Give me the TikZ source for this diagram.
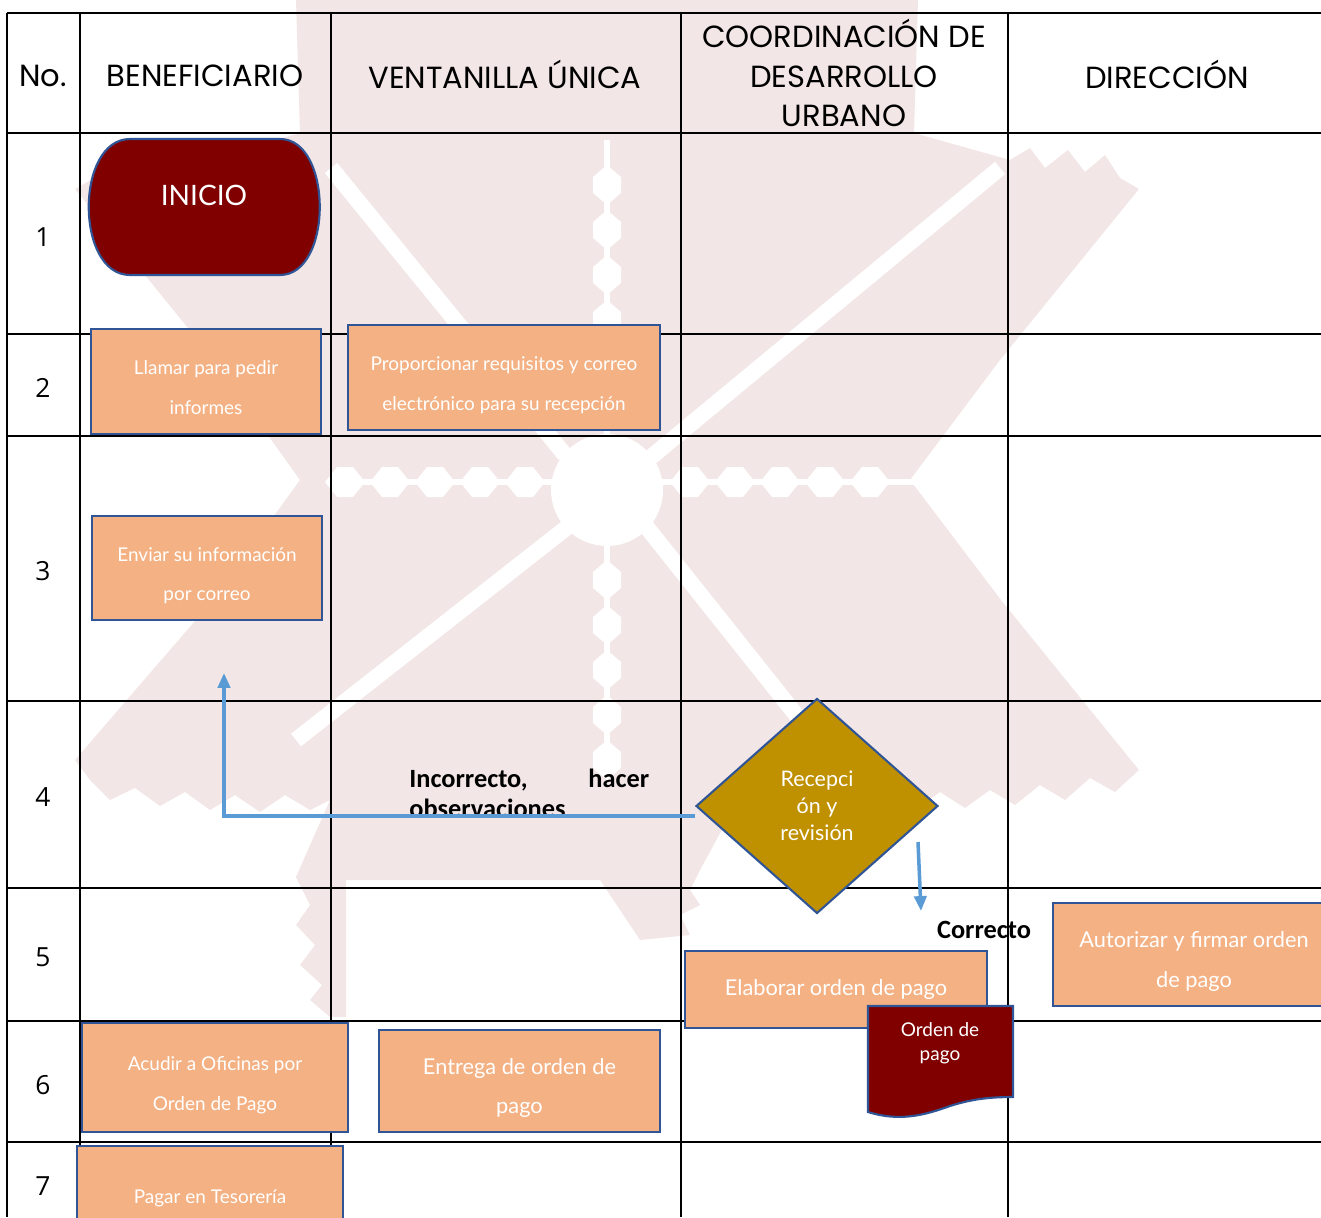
\documentclass[tikz,border=0pt]{standalone}
\usepackage{fontspec}
\setmainfont{Lato}
\newfontfamily\hdrfont{Poppins}
\newfontfamily\lblfont{Carlito}
\newfontfamily\numfont{Open Sans}
\usetikzlibrary{arrows.meta,shapes.geometric}
\definecolor{boxfill}{HTML}{F4B183}
\definecolor{boxline}{HTML}{2F5597}
\definecolor{darkred}{HTML}{800000}
\definecolor{goldfill}{HTML}{BF9000}
\definecolor{flowblue}{HTML}{5B9BD5}
\definecolor{wmpink}{HTML}{F3E6E6}
\newcommand\lowtxt[1]{\raisebox{-0.1cm}[\height][\depth]{\begin{tabular}{@{}c@{}}#1\end{tabular}}}
\tikzset{
  hline/.style={black, line width=1.2pt},
  vline/.style={black, line width=0.7pt},
  hdr/.style={font=\hdrfont\fontsize{17.4}{22.7}\selectfont, align=center, inner sep=0pt},
  rownum/.style={font=\numfont\fontsize{15}{18}\selectfont, inner sep=0pt},
  proc/.style={draw=boxline, line width=1.3pt, fill=boxfill, text=white, align=center, inner sep=0pt},
  smalltxt/.style={font=\fontsize{10.8}{22.7}\selectfont},
  bigtxt/.style={font=\fontsize{12.4}{22.7}\selectfont},
  decision/.style={shape=diamond, draw=boxline, line width=1.2pt, fill=goldfill, text=white, align=center, inner sep=0pt, font=\fontsize{12.2}{15.3}\selectfont},
  lbl/.style={font=\lblfont\bfseries\fontsize{15}{17}\selectfont, inner sep=0pt},
  flow/.style={draw=flowblue, line width=2pt, -{Triangle[length=8.5pt,width=7pt]}},
  wm/.style={fill=wmpink, draw=none},
  wmw/.style={fill=white, draw=none},
  wmline/.style={draw=white, line width=0.32cm}
}
\begin{document}
\begin{tikzpicture}[x=0.02cm, y=-0.02cm]
\useasboundingbox (0,0) rectangle (1321,1217);
% ---------- watermark ----------
\fill[wm] (296,0) -- (918,0) -- (914,133) -- (1010,160)
  -- (1030,148) -- (1045,168) -- (1068,150) -- (1085,172) -- (1105,155) -- (1120,178) -- (1139,189)
  -- (1000,360) -- (910,480) -- (1001,600) -- (1139,770)
  -- (1115,792) -- (1090,778) -- (1065,800) -- (1040,785) -- (1015,805) -- (990,790) -- (965,808)
  -- (940,792) -- (915,810) -- (890,795) -- (865,810) -- (846,795)
  -- (760,760) -- (700,870) -- (690,890) -- (700,905) -- (680,915) -- (690,935) -- (640,940)
  -- (600,880) -- (346,880) -- (346,1017) -- (330,1017)
  -- (310,1000) -- (322,985) -- (300,965) -- (315,945) -- (296,925) -- (310,905) -- (296,877)
  -- (330,800) -- (310,810) -- (285,795) -- (260,812) -- (235,795) -- (210,810) -- (185,792)
  -- (160,806) -- (135,788) -- (110,800) -- (90,780) -- (75,760)
  -- (213,600) -- (300,480) -- (214,360) -- (75,189)
  -- (94,178) -- (109,155) -- (129,172) -- (152,150) -- (169,168) -- (189,148) -- (204,160)
  -- (300,133) -- cycle;
\draw[wmline] (331,168) -- (565,455);
\draw[wmline] (1000,168) -- (645,462);
\draw[wmline] (645,525) -- (918,868);
\draw[wmline] (570,525) -- (296,740);
\fill[wmw] (607,490) circle (56);
\fill[wmw] (604,140) rectangle (610,775);
\foreach \yy in {185,230,275,320,365,410,580,625,670,715,760}{
  \fill[wmw] (607,\yy-20) -- (621,\yy-8) -- (621,\yy+8) -- (607,\yy+20) -- (593,\yy+8) -- (593,\yy-8) -- cycle;}
\fill[wmw] (330,479) rectangle (920,485);
\foreach \xx in {345,390,435,480,525,690,735,780,825,870}{
  \fill[wmw] (\xx-20,482) -- (\xx-8,467) -- (\xx+8,467) -- (\xx+20,482) -- (\xx+8,497) -- (\xx-8,497) -- cycle;}
% ---------- table ----------
\draw[hline] (7,13) -- (1321,13);
\foreach \yy in {133,334,436,701,888,1021,1142}{\draw[hline] (7,\yy) -- (1321,\yy);}
\draw[vline, line width=1pt] (7,13) -- (7,1217);
\foreach \xx in {80,331,681,1008}{\draw[vline] (\xx,13) -- (\xx,1217);}
% ---------- header ----------
\node[hdr] (hno) at (43,76) {No.};
\node[hdr] (hben) at (205,76) {BENEFICIARIO};
\node[hdr] (hven) at (505,74) {VENTANILLA ÚNICA};
\node[hdr] (hcoo) at (844,73) {COORDINACIÓN DE\\DESARROLLO\\URBANO};
\node[hdr] (hdir) at (1167,74) {DIRECCIÓN};
% ---------- row numbers ----------
\node[rownum] (r1) at (43,237) {1};
\node[rownum] (r2) at (43,388) {2};
\node[rownum] (r3) at (43,571) {3};
\node[rownum] (r4) at (43,797) {4};
\node[rownum] (r5) at (43,957) {5};
\node[rownum] (r6) at (43,1085) {6};
\node[rownum] (r7) at (43,1186) {7};
% ---------- start ----------
\draw[fill=darkred, draw=boxline, line width=1.2pt]
  (130,139) -- (280,139) .. controls (333,139) and (333,275) .. (280,275)
  -- (130,275) .. controls (75,275) and (75,139) .. (130,139) -- cycle;
\node[text=white, font=\fontsize{16}{20}\selectfont, inner sep=0pt] (inicio) at (204,195) {INICIO};
% ---------- process boxes ----------
\node[proc, smalltxt, minimum width=4.6cm, minimum height=2.1cm] (llamar) at (206,381.5) {\lowtxt{Llamar para pedir\\informes}};
\node[proc, smalltxt, minimum width=6.24cm, minimum height=2.1cm] (prop) at (504,377.5) {\lowtxt{Proporcionar requisitos y correo\\electrónico para su recepción}};
\node[proc, smalltxt, minimum width=4.6cm, minimum height=2.08cm] (enviar) at (207,568) {\lowtxt{Enviar su información\\por correo}};
% ---------- decision ----------
\node[decision, minimum width=4.84cm, minimum height=4.3cm] (dec) at (817,806) {Recepci\\ón y\\revisión};
% labels
\node[lbl, text width=4.8cm, align=left, anchor=north west] (incor) at (409,769) {Incorrecto,\hfill hacer\\observaciones};
\node[lbl] (corr) at (984,930) {Correcto};
% ---------- row 5/6/7 ----------
\node[proc, bigtxt, minimum width=6.04cm, minimum height=1.54cm] (elab) at (836,989.5) {Elaborar orden de pago};
\node[proc, bigtxt, minimum width=5.64cm, minimum height=2.06cm] (autor) at (1194,954.5) {\lowtxt{Autorizar y firmar orden\\de pago}};
\node[proc, smalltxt, minimum width=5.32cm, minimum height=2.18cm] (acudir) at (215,1077.5) {\lowtxt{Acudir a Oficinas por\\Orden de Pago}};
\node[proc, bigtxt, minimum width=5.62cm, minimum height=2.04cm] (entrega) at (519.5,1081) {\lowtxt{Entrega de orden de\\pago}};
\node[proc, smalltxt, minimum width=5.32cm, minimum height=2.08cm] (pagar) at (210,1198) {Pagar en Tesorería};
% document
\draw[fill=darkred, draw=boxline, line width=1.2pt]
  (868,1006) -- (1013,1006) -- (1013,1097)
  .. controls (990,1097) and (972,1099) .. (950,1106)
  .. controls (925,1115) and (900,1122) .. (868,1112) -- cycle;
\node[text=white, align=center, inner sep=0pt, font=\fontsize{10.8}{13.6}\selectfont] (orden) at (940,1043) {Orden de\\pago};
% ---------- connectors ----------
\coordinate (backend) at (224,673);
\coordinate (okstart) at (918,842);
\coordinate (okend) at (921,911);
\draw[flow] ([yshift=-0.2cm]dec.west) -| (backend);
\draw[flow] (okstart) -- (okend);
\end{tikzpicture}
\end{document}
